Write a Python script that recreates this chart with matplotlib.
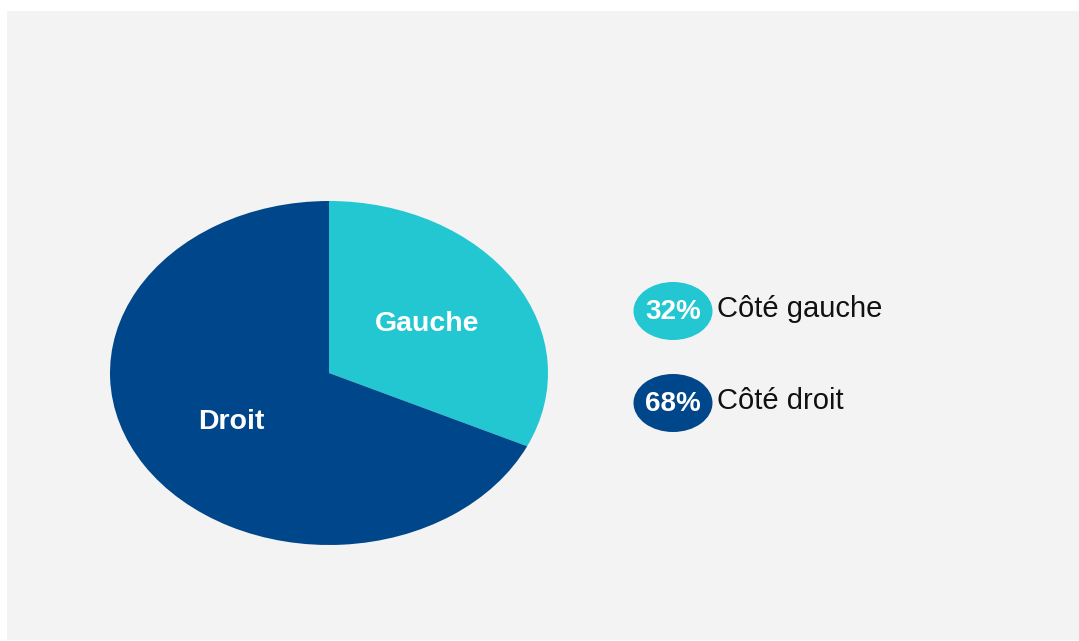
import numpy as np
import matplotlib.pyplot as plt
from matplotlib.patches import Ellipse, Rectangle

# Data
sides = ['Gauche', 'Droit']
shares = [32, 68]
legend_labels = ['Côté gauche', 'Côté droit']
colors = ['#22c7d1', '#00468a']

W, H = 1079, 641
fig = plt.figure(figsize=(W / 100, H / 100), dpi=100)
fig.patch.set_facecolor('white')

# light grey panel behind everything
fig.patches.append(Rectangle((7 / W, 1 / H), 1 - 7 / W, 629 / H,
                             transform=fig.transFigure, facecolor='#f3f3f3',
                             edgecolor='none', zorder=-5))

# pie, drawn in an axes with different x/y scales so it comes out oval
ax = fig.add_axes([0, 0, 1, 1])
ax.patch.set_visible(False)
wedges, _ = ax.pie(shares, colors=colors, startangle=90, counterclock=False,
                   radius=1, wedgeprops=dict(linewidth=0))
ax.set_aspect('auto')
cx, cy, rx, ry = 329, 373, 219, 172
ax.set_xlim(-cx / rx, (W - cx) / rx)
ax.set_ylim(-(H - cy) / ry, cy / ry)
ax.axis('off')

for w, name in zip(wedges, sides):
    mid = np.deg2rad((w.theta1 + w.theta2) / 2)
    ax.text(0.53 * np.cos(mid), 0.53 * np.sin(mid), name, ha='center', va='center',
            color='white', fontsize=20.5, fontweight='bold', family='Liberation Sans')

# legend with coloured ovals holding the percentages
lg = fig.add_axes([0, 0, 1, 1])
lg.patch.set_visible(False)
lg.set_xlim(0, W)
lg.set_ylim(H, 0)
lg.axis('off')

rows = [311, 403]
for y, share, lab, col in zip(rows, shares, legend_labels, colors):
    lg.add_patch(Ellipse((673, y), 79, 58, facecolor=col, edgecolor='none'))
    lg.text(673, y + 1, f'{share}%', ha='center', va='center', color='white',
            fontsize=20, fontweight='bold', family='Liberation Sans')
    lg.text(717, y - 2, lab, ha='left', va='center', color='#111111',
            fontsize=21, family='Liberation Sans')

fig.savefig('out.png', dpi=100, facecolor=fig.get_facecolor())
